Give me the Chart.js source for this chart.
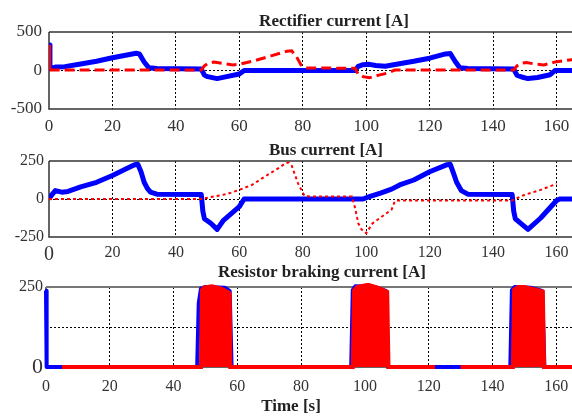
<!DOCTYPE html>
<html>
<head>
<meta charset="utf-8">
<script src="https://cdn.jsdelivr.net/npm/chart.js@4.4.0/dist/chart.umd.min.js"></script>
<style>
  html, body { margin: 0; padding: 0; background: #fff; }
  body { width: 572px; height: 416px; overflow: hidden; position: relative; }
  .panel { position: absolute; left: 0; width: 640px; }
  #p1 { top: 0; height: 135px; }
  #p2 { top: 135px; height: 130px; }
  #p3 { top: 265px; height: 151px; }
</style>
</head>
<body>
<div class="panel" id="p1"><canvas id="rectChart"></canvas></div>
<div class="panel" id="p2"><canvas id="busChart"></canvas></div>
<div class="panel" id="p3"><canvas id="brakeChart"></canvas></div>
<script>
const SERIF = '"Liberation Serif", "Times New Roman", serif';
const BLUE = '#0000ff';
const RED = '#ff0000';

// time axis [s]
const timeMin = 0;
const timeMax = 180;
const timeStep = 20;

// rectifier current [A]
const rectTicks = [-500, 0, 500];
const rectBlueT = [0, 0.3, 2, 5, 10, 15, 20, 25, 27.5, 28.5, 30, 31.5, 34, 48, 49, 50, 53, 56, 60, 61.5, 96.5, 97.5, 99, 101, 103, 106, 110, 115, 120, 125, 126.5, 128, 129.5, 132, 146.5, 147.5, 149, 151, 154, 158, 159.5, 170];
const rectBlueA = [330, 25, 45, 50, 85, 120, 165, 205, 225, 215, 110, 35, 25, 18, -60, -80, -105, -80, -45, 0, 0, 55, 75, 80, 65, 55, 85, 120, 160, 215, 220, 120, 35, 25, 18, -60, -85, -105, -90, -55, 0, 0];
const rectRedT = [0, 0.2, 48, 49, 50, 52, 55, 58, 60, 65, 70, 75, 76.5, 78, 79.5, 81, 96.5, 97.5, 99, 101, 104, 107, 109, 146.5, 147.5, 149, 150.5, 153, 156, 160, 164, 170];
const rectRedA = [335, 8, 8, 60, 90, 110, 90, 72, 80, 130, 190, 250, 255, 180, 70, 32, 30, -50, -80, -95, -60, -30, 5, 5, 60, 95, 105, 85, 73, 115, 137, 160];

// bus current [A]
const busTicks = [-250, 0, 250];
const busBlueT = [0, 1, 2, 3, 4, 6, 10, 15, 20, 25, 27, 28, 29, 30, 31, 32, 34, 48, 48.5, 49, 51, 53, 55, 60, 61.5, 99, 101, 104.5, 108, 111, 115, 120, 125.5, 126.5, 127.5, 128.5, 130, 132, 146, 146.5, 147, 149, 151, 155, 160, 161, 170];
const busBlueA = [0, 30, 55, 50, 45, 50, 80, 110, 155, 205, 225, 228, 180, 110, 70, 45, 32, 30, -80, -130, -160, -200, -140, -50, 0, 0, 15, 39, 65, 97, 125, 179, 226, 228, 170, 110, 55, 32, 30, -80, -130, -165, -200, -125, -10, 0, 0];
const busRedT = [0, 48, 52, 56, 60, 64, 68, 72.5, 74.5, 75.5, 76.5, 78.5, 80.5, 82, 95.5, 96.5, 97.5, 98.5, 100, 102, 105, 108, 109, 110, 146, 148, 150, 155, 160];
const busRedA = [0, 0, 17, 32, 60, 93, 147, 205, 235, 240, 220, 103, 22, 17, 17, -60, -160, -200, -225, -160, -115, -70, -15, -10, -10, 10, 28, 60, 100];

// resistor braking current [A]
const brakeTicks = [0, 125, 250];
const brakeBlueT = [0, 0.2, 47.4, 47.9, 48.6, 50, 56, 57.6, 58.2, 95.7, 96.2, 97, 103, 106.6, 107.2, 145.6, 146.1, 147, 152, 155.6, 156.3, 180];
const brakeBlueA = [238, 0, 0, 200, 245, 250, 248, 238, 0, 0, 240, 252, 250, 238, 0, 0, 240, 250, 248, 238, 0, 0];
const brakeRedT = [5, 48.6, 48.9, 49.5, 52, 55, 57.3, 57.6, 57.8, 96.2, 96.6, 97.5, 101, 104, 107, 107.4, 122, 126, 130, 146.4, 146.8, 148, 150, 153, 155.8, 156.2, 180];
const brakeRedA = [0, 0, 240, 248, 252, 245, 233, 228, 0, 0, 240, 250, 257, 248, 235, 0, 0, null, 0, 0, 242, 250, 250, 243, 236, 0, 0];

function pairs(t, a) {
    return t.map((x, i) => ({ x: x, y: a[i] }));
}

// text drawn at fixed spots on each panel (titles, axis caption)
const panelText = {
    id: 'panelText',
    afterDraw(chart, args, opts) {
        const ctx = chart.ctx;
        (opts.items || []).forEach(it => {
            ctx.save();
            ctx.font = it.font;
            ctx.fillStyle = '#222';
            ctx.textAlign = 'center';
            ctx.textBaseline = 'middle';
            ctx.fillText(it.text, it.x, it.y);
            ctx.restore();
        });
    }
};

// axes box: top, left and bottom edges
const frame = {
    id: 'frame',
    beforeDatasetsDraw(chart, args, opts) {
        const { ctx, chartArea: a } = chart;
        ctx.save();
        ctx.lineWidth = 1.5;
        ctx.strokeStyle = '#333';
        ctx.beginPath();
        ctx.moveTo(a.left, a.top);
        ctx.lineTo(a.left, a.bottom);
        ctx.lineTo(a.right + 5, a.bottom);
        ctx.stroke();
        ctx.lineWidth = opts.topWidth || 1.5;
        ctx.strokeStyle = opts.topColor || '#333';
        ctx.beginPath();
        ctx.moveTo(a.left, a.top);
        ctx.lineTo(a.right + 5, a.top);
        ctx.stroke();
        ctx.restore();
    }
};

function makeOptions(cfg) {
    return {
        responsive: true,
        maintainAspectRatio: false,
        animation: false,
        layout: { padding: { left: 0, right: 20, top: cfg.top, bottom: 0 } },
        plugins: {
            legend: { display: false },
            tooltip: { enabled: false },
            panelText: { items: cfg.texts },
            frame: cfg.frame || {}
        },
        elements: { point: { radius: 0 }, line: { tension: 0 } },
        scales: {
            x: {
                type: 'linear',
                min: timeMin,
                max: timeMax,
                afterFit: s => { s.height = cfg.xHeight; },
                ticks: {
                    stepSize: timeStep,
                    padding: cfg.xPad,
                    color: '#333',
                    font: cfg.xFont,
                    maxRotation: 0,
                    callback: v => (v < timeMax ? v : '')
                },
                grid: {
                    drawTicks: false,
                    lineWidth: 1,
                    color: c => (c.tick && c.tick.value > timeMin && c.tick.value < timeMax ? '#000' : 'rgba(0,0,0,0)')
                },
                border: { display: false, dash: [2, 2] }
            },
            y: {
                min: cfg.yTicks[0],
                max: cfg.yTicks[cfg.yTicks.length - 1],
                afterFit: s => { s.width = cfg.yWidth; },
                afterBuildTicks: s => { s.ticks = cfg.yTicks.map(v => ({ value: v })); },
                ticks: {
                    padding: cfg.yPad,
                    color: '#333',
                    font: cfg.yFont,
                    callback: v => (v === cfg.yHide ? '' : v)
                },
                grid: {
                    drawTicks: false,
                    lineWidth: 1,
                    color: c => (c.tick && c.tick.value === cfg.yGrid ? '#000' : 'rgba(0,0,0,0)')
                },
                border: { display: false, dash: [2, 2] }
            }
        }
    };
}

const plainFont = size => ({ family: SERIF, size: size });
const bigZero = (size, zeroSize) => c => ({ family: SERIF, size: c.tick && c.tick.value === 0 ? zeroSize : size });

new Chart(document.getElementById('rectChart'), {
    type: 'line',
    data: {
        datasets: [
            {
                data: pairs(rectRedT, rectRedA),
                borderColor: RED,
                borderWidth: 3,
                segment: { borderDash: c => (c.p0DataIndex === 0 ? [] : [10, 5]) },
                order: 0
            },
            {
                data: pairs(rectBlueT, rectBlueA),
                borderColor: BLUE,
                borderWidth: 5,
                borderJoinStyle: 'round',
                order: 1
            }
        ]
    },
    options: makeOptions({
        top: 32, xHeight: 26, xPad: 7, yWidth: 49, yPad: 7,
        yTicks: rectTicks, yGrid: 0, yHide: null,
        xFont: plainFont(17), yFont: plainFont(17),
        texts: [{ text: 'Rectifier current [A]', x: 334, y: 22, font: 'bold 17px ' + SERIF }]
    }),
    plugins: [frame, panelText]
});

new Chart(document.getElementById('busChart'), {
    type: 'line',
    data: {
        datasets: [
            {
                data: pairs(busRedT, busRedA),
                borderColor: RED,
                borderWidth: 2,
                borderDash: [3, 3],
                order: 0
            },
            {
                data: pairs(busBlueT, busBlueA),
                borderColor: BLUE,
                borderWidth: 5,
                borderJoinStyle: 'round',
                order: 1
            }
        ]
    },
    options: makeOptions({
        top: 26, xHeight: 28, xPad: 6, yWidth: 49, yPad: 5,
        yTicks: busTicks, yGrid: 0, yHide: null,
        xFont: bigZero(16, 20), yFont: plainFont(16),
        texts: [{ text: 'Bus current [A]', x: 326, y: 16, font: 'bold 17px ' + SERIF }]
    }),
    plugins: [frame, panelText]
});

new Chart(document.getElementById('brakeChart'), {
    type: 'line',
    data: {
        datasets: [
            {
                data: pairs(brakeRedT, brakeRedA),
                borderColor: RED,
                backgroundColor: RED,
                borderWidth: 4,
                fill: 'origin',
                spanGaps: false,
                clip: 4,
                order: 0
            },
            {
                data: pairs(brakeBlueT, brakeBlueA),
                borderColor: BLUE,
                borderWidth: 4,
                borderJoinStyle: 'round',
                clip: 4,
                order: 1
            }
        ]
    },
    options: makeOptions({
        top: 22, xHeight: 49, xPad: 10, yWidth: 46, yPad: 3,
        yTicks: brakeTicks, yGrid: 125, yHide: 125,
        xFont: plainFont(16), yFont: bigZero(16, 22),
        frame: { topColor: '#777', topWidth: 2 },
        texts: [
            { text: 'Resistor braking current [A]', x: 322, y: 8, font: 'bold 17px ' + SERIF },
            { text: 'Time [s]', x: 291, y: 142, font: 'bold 17px ' + SERIF }
        ]
    }),
    plugins: [frame, panelText]
});
</script>
</body>
</html>
